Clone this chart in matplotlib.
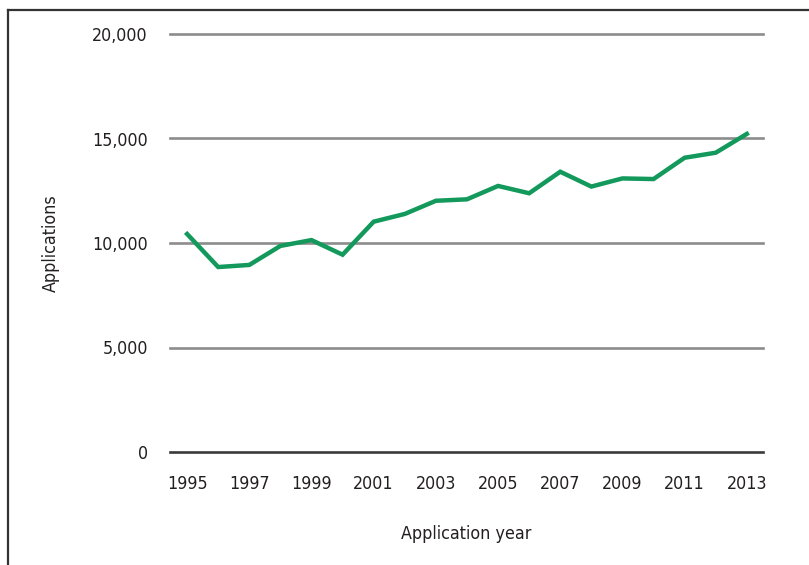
import matplotlib
matplotlib.use("Agg")
import matplotlib.pyplot as plt
from matplotlib.lines import Line2D
from matplotlib.ticker import FuncFormatter

years = list(range(1995, 2014))
applications = [10430, 8850, 8950, 9860, 10140, 9440, 11020, 11390, 12020, 12090,
                12730, 12380, 13410, 12700, 13090, 13060, 14080, 14320, 15220]
x_ticks = list(range(1995, 2014, 2))
y_ticks = [0, 5000, 10000, 15000, 20000]

plt.rcParams["font.family"] = ["DejaVu Sans"]
plt.rcParams["font.stretch"] = "condensed"
text_color = "#231f20"
fs = 12.8

fig = plt.figure(figsize=(8.09, 5.65), dpi=100)
ax = fig.add_axes([170 / 809, 1 - 452 / 565, 593 / 809, 418 / 565])

for y in y_ticks:
    color = "#3a3a3a" if y == 0 else "#8c8c8c"
    ax.axhline(y, color=color, linewidth=1.9, clip_on=False, zorder=1)

ax.plot(years, applications, color="#12995b", linewidth=3.2,
        solid_joinstyle="miter", zorder=3)

ax.set_xlim(1994.45, 2013.52)
ax.set_ylim(0, 20000)
ax.set_xticks(x_ticks)
ax.set_yticks(y_ticks)
ax.yaxis.set_major_formatter(FuncFormatter(lambda v, p: f"{int(v):,}"))
ax.tick_params(axis="both", length=0, labelsize=fs, colors=text_color)
ax.tick_params(axis="y", pad=16)
ax.tick_params(axis="x", pad=16.5)
for lbl in ax.get_xticklabels() + ax.get_yticklabels():
    lbl.set_fontstretch("condensed")
for s in ax.spines.values():
    s.set_visible(False)

ax.set_xlabel("Application year", fontsize=fs, color=text_color, labelpad=23,
              fontstretch="condensed")
ax.set_ylabel("Applications", fontsize=fs, color=text_color, labelpad=23,
              fontstretch="condensed")

# frame around the figure (top and left edges only)
fig.add_artist(Line2D([8 / 809, 8 / 809], [0, 1 - 10 / 565],
                      transform=fig.transFigure, color="#333333", linewidth=1.6))
fig.add_artist(Line2D([8 / 809, 1], [1 - 10 / 565, 1 - 10 / 565],
                      transform=fig.transFigure, color="#333333", linewidth=1.6))

fig.savefig("out.png", dpi=100)
